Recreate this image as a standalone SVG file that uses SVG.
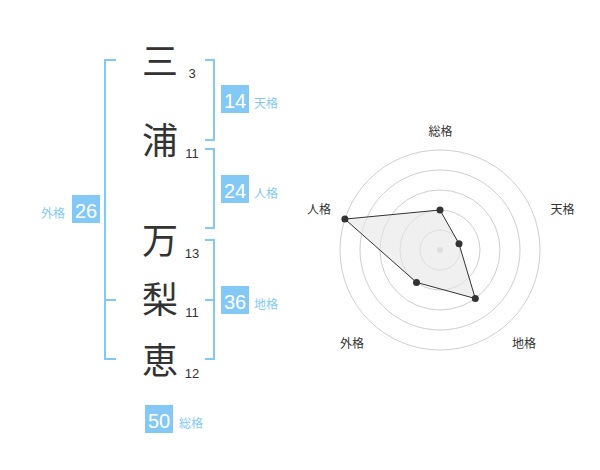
<svg xmlns="http://www.w3.org/2000/svg" width="600" height="470" viewBox="0 0 600 470">
<style>
.k{font-family:"Noto Sans CJK JP","Noto Sans CJK SC",sans-serif;font-size:36px;fill:#333;text-anchor:middle}
.n{font-family:"Liberation Sans",Arial,sans-serif;font-size:13px;fill:#333;text-anchor:middle}
.br{fill:none;stroke:#84c9f5;stroke-width:2}
.box{fill:#84c9f5}
.bn{font-family:"Liberation Sans",Arial,sans-serif;font-size:20px;fill:#fff;text-anchor:middle}
.bl{font-family:"Noto Sans CJK JP","Noto Sans CJK SC",sans-serif;font-size:12px;fill:#84c9f5}
.rl{font-family:"Noto Sans CJK JP","Noto Sans CJK SC",sans-serif;font-size:12px;fill:#333;text-anchor:middle}
.ring{fill:none;stroke:#cfcfcf;stroke-width:1}
.dot{fill:#333}
</style>
<rect width="600" height="470" fill="#fff"/>
<g id="connectors">
<path class="br" d="M116,60 H105 V359 H116 M105,300 H116"/>
<path class="br" d="M205,60 H214 V140 H205"/>
<path class="br" d="M205,149 H214 V228 H205"/>
<path class="br" d="M205,240 H214 V359 H205 M205,300 H214"/>
</g>
<g id="char-1"><text class="k" x="160" y="75">三</text><text class="n" x="192" y="77.5">3</text></g>
<g id="char-2"><text class="k" x="160" y="154">浦</text><text class="n" x="192" y="157.5">11</text></g>
<g id="char-3"><text class="k" x="160" y="254">万</text><text class="n" x="192" y="257.5">13</text></g>
<g id="char-4"><text class="k" x="160" y="313">梨</text><text class="n" x="192" y="317">11</text></g>
<g id="char-5"><text class="k" x="160" y="374">恵</text><text class="n" x="192" y="377.5">12</text></g>
<g id="tenkaku"><rect class="box" x="221" y="85" width="28" height="28"/><text class="bn" x="235" y="108">14</text><text class="bl" x="254" y="108">天格</text></g>
<g id="jinkaku"><rect class="box" x="221" y="175" width="28" height="28"/><text class="bn" x="235" y="198">24</text><text class="bl" x="254" y="198">人格</text></g>
<g id="gaikaku"><rect class="box" x="72" y="195" width="28" height="28"/><text class="bn" x="86" y="218">26</text><text class="bl" x="41" y="218">外格</text></g>
<g id="chikaku"><rect class="box" x="221" y="286" width="28" height="28"/><text class="bn" x="235" y="309">36</text><text class="bl" x="254" y="309">地格</text></g>
<g id="soukaku"><rect class="box" x="145" y="405" width="28" height="28"/><text class="bn" x="159" y="428">50</text><text class="bl" x="179" y="428">総格</text></g>
<g id="radar">
<circle class="ring" cx="440" cy="250" r="20"/>
<circle class="ring" cx="440" cy="250" r="40"/>
<circle class="ring" cx="440" cy="250" r="60"/>
<circle class="ring" cx="440" cy="250" r="80"/>
<circle class="ring" cx="440" cy="250" r="100"/>
<circle cx="440" cy="250" r="3" fill="#cfcfcf"/>
<polygon points="440,210 459,243.8 475.3,298.5 416.5,282.4 344.9,219.1" fill="#e6e6e6" fill-opacity="0.6" stroke="#333" stroke-width="1"/>
<circle class="dot" cx="440" cy="210" r="3.5"/>
<circle class="dot" cx="459" cy="243.8" r="3.5"/>
<circle class="dot" cx="475.3" cy="298.5" r="3.5"/>
<circle class="dot" cx="416.5" cy="282.4" r="3.5"/>
<circle class="dot" cx="344.9" cy="219.1" r="3.5"/>
<text class="rl" x="440.5" y="136">総格</text>
<text class="rl" x="562.5" y="214">天格</text>
<text class="rl" x="319" y="214">人格</text>
<text class="rl" x="352" y="348">外格</text>
<text class="rl" x="524" y="348">地格</text>
</g>
</svg>
